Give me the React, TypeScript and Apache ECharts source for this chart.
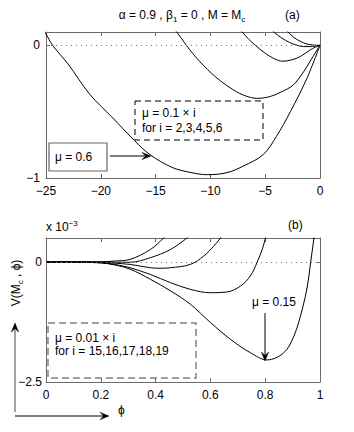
import React, { useEffect, useRef } from 'react';
import * as echarts from 'echarts';

const F = '"Liberation Sans", Arial, Helvetica, sans-serif';
const AX = '#6a6a6a';

// ---------- Panel (a): phi from -25 to 0 ----------
const xTicksA = [-25, -20, -15, -10, -5, 0];
const yTicksA = [-1, 0];

const phiA02 = [-3.2, -2.9, -2.4, -1.8, -1.2, -0.6, 0];
const vA02 = [0.13, 0.1, 0.06, 0.03, 0.01, 0.002, 0];

const phiA03 = [-4.5, -4.2, -3.5, -2.8, -2.2, -1.5, -0.8, 0];
const vA03 = [0.13, 0.1, 0.055, 0.022, 0.003, -0.01, -0.01, 0];

const phiA04 = [-7.5, -7.1, -6.5, -5.9, -5.0, -4.2, -3.4, -2.6, -1.8, -0.8, 0];
const vA04 = [0.13, 0.1, 0.045, 0, -0.06, -0.1, -0.12, -0.11, -0.085, -0.03, 0];

const phiA05 = [-13.5, -13.07, -12.2, -11.0, -9.5, -8.2, -7.0, -5.7, -4.5, -3.5, -2.45, -1.5, -0.9, 0];
const vA05 = [0.13, 0.1, 0, -0.12, -0.24, -0.32, -0.375, -0.4, -0.385, -0.35, -0.3, -0.2, -0.12, 0];

const phiA06 = [-25.3, -25, -24.4, -23, -21, -19, -16.9, -15.5, -13.5, -12, -10.3, -8.5, -7, -5.2, -4, -2.7, -1.2, 0];
const vA06 = [0.12, 0.085, 0, -0.14, -0.37, -0.54, -0.72, -0.825, -0.92, -0.955, -0.975, -0.96, -0.91, -0.825, -0.69, -0.5, -0.25, 0];

// ---------- Panel (b): phi from 0 to 1, V in units of 1e-3 ----------
const xTicksB = [0, 0.2, 0.4, 0.6, 0.8, 1];
const yTicksB = [-2.5, 0];

const phiB15 = [0, 0.1, 0.2, 0.25, 0.307, 0.381, 0.454, 0.527, 0.6, 0.673, 0.746, 0.807, 0.868, 0.905, 0.935, 0.954, 0.966, 0.978, 0.985];
const vB15 = [0, 0, -0.02, -0.06, -0.15, -0.36, -0.6, -0.88, -1.26, -1.61, -1.89, -2.04, -1.89, -1.54, -0.99, -0.5, 0, 0.5, 0.8];

const phiB16 = [0, 0.1, 0.2, 0.25, 0.307, 0.381, 0.454, 0.527, 0.6, 0.661, 0.71, 0.746, 0.771, 0.789, 0.801, 0.81];
const vB16 = [0, 0, -0.015, -0.05, -0.12, -0.26, -0.43, -0.57, -0.64, -0.625, -0.5, -0.29, 0, 0.26, 0.5, 0.7];

const phiB17 = [0, 0.1, 0.2, 0.25, 0.307, 0.381, 0.42, 0.454, 0.527, 0.576, 0.612, 0.637, 0.65];
const vB17 = [0, 0, -0.01, -0.025, -0.05, -0.12, -0.13, -0.12, -0.05, 0.125, 0.33, 0.5, 0.62];

const phiB18 = [0, 0.1, 0.2, 0.25, 0.307, 0.381, 0.454, 0.515, 0.53];
const vB18 = [0, 0, 0, -0.005, -0.005, 0.09, 0.26, 0.5, 0.58];

const phiB19 = [0, 0.1, 0.2, 0.25, 0.307, 0.381, 0.429, 0.44];
const vB19 = [0, 0, 0.005, 0.02, 0.055, 0.26, 0.5, 0.58];

const zip = (xs: number[], ys: number[]) => xs.map((x, i) => [x, ys[i]]);
const fmt = (v: number) => {
  const s = String(Math.round(v * 1000) / 1000);
  return s.replace('-', '\u2212');
};

function arrowHead(tx: number, ty: number, dx: number, dy: number, color: string) {
  const L = 9, W = 3.6;
  const nx = -dy, ny = dx;
  return {
    type: 'polygon',
    shape: {
      points: [
        [tx, ty],
        [tx - L * dx + W * nx, ty - L * dy + W * ny],
        [tx - 0.6 * L * dx, ty - 0.6 * L * dy],
        [tx - L * dx - W * nx, ty - L * dy - W * ny],
      ],
    },
    style: { fill: color, stroke: color, lineWidth: 0.5 },
  };
}

function txt(x: number, y: number, text: string, extra: any = {}) {
  return {
    type: 'text',
    x,
    y,
    style: {
      text,
      fontSize: 12,
      fontFamily: F,
      fill: '#000',
      align: 'left',
      verticalAlign: 'middle',
      textAlign: 'left',
      textVerticalAlign: 'middle',
      ...extra,
    },
  };
}

export default function App() {
  const ref = useRef<HTMLDivElement>(null);
  useEffect(() => {
    if (!ref.current) return;
    const chart = echarts.init(ref.current, null, { renderer: 'svg' });

    const axisCommon = (extra: any) => ({
      type: 'value',
      axisLine: { show: true, onZero: false, lineStyle: { color: AX, width: 1 } },
      axisTick: { show: true, inside: true, length: 4, lineStyle: { color: AX } },
      splitLine: { show: false },
      axisLabel: { color: '#000', fontSize: 12, fontFamily: F, formatter: fmt },
      ...extra,
    });

    const line = (data: number[][], xi: number, yi: number, extra: any = {}) => ({
      type: 'line',
      xAxisIndex: xi,
      yAxisIndex: yi,
      data,
      showSymbol: false,
      symbol: 'none',
      smooth: 0.35,
      lineStyle: { color: '#000', width: 1 },
      clip: true,
      silent: true,
      ...extra,
    });

    const zeroMark = {
      markLine: {
        silent: true,
        symbol: 'none',
        label: { show: false },
        lineStyle: { color: '#777', type: [1, 4], width: 1 },
        data: [{ yAxis: 0 }],
      },
    };

    const rich = {
      n: { fontSize: 12, fontFamily: F, lineHeight: 16, fill: '#000', color: '#000' },
      s: { fontSize: 8, fontFamily: F, lineHeight: 8, verticalAlign: 'bottom', fill: '#000', color: '#000' },
      p: { fontSize: 8, fontFamily: F, lineHeight: 8, verticalAlign: 'top', fill: '#000', color: '#000' },
    };

    const option: any = {
      animation: false,
      backgroundColor: '#fff',
      grid: [
        { left: 46, top: 32, width: 274, height: 146 },
        { left: 46, top: 238, width: 274, height: 144 },
      ],
      xAxis: [
        axisCommon({ gridIndex: 0, position: 'bottom', min: -25, max: 0, interval: 5, axisLabel: { color: '#000', fontSize: 12, fontFamily: F, margin: 7, formatter: fmt, customValues: xTicksA }, axisTick: { show: true, inside: true, length: 4, lineStyle: { color: AX }, customValues: xTicksA } }),
        axisCommon({ gridIndex: 0, position: 'top', min: -25, max: 0, interval: 5, axisLabel: { show: false } }),
        axisCommon({ gridIndex: 1, position: 'bottom', min: 0, max: 1, interval: 0.2, axisLabel: { color: '#000', fontSize: 12, fontFamily: F, margin: 7, formatter: fmt, customValues: xTicksB }, axisTick: { show: true, inside: true, length: 4, lineStyle: { color: AX }, customValues: xTicksB } }),
        axisCommon({ gridIndex: 1, position: 'top', min: 0, max: 1, interval: 0.2, axisLabel: { show: false } }),
      ],
      yAxis: [
        axisCommon({ gridIndex: 0, position: 'left', min: -1, max: 0.1, axisLabel: { color: '#000', fontSize: 12, fontFamily: F, margin: 6, formatter: fmt, customValues: yTicksA }, axisTick: { show: true, inside: true, length: 4, lineStyle: { color: AX }, customValues: yTicksA } }),
        axisCommon({ gridIndex: 0, position: 'right', min: -1, max: 0.1, axisLabel: { show: false }, axisTick: { show: true, inside: true, length: 4, lineStyle: { color: AX }, customValues: yTicksA } }),
        axisCommon({ gridIndex: 1, position: 'left', min: -2.5, max: 0.5, axisLabel: { color: '#000', fontSize: 12, fontFamily: F, margin: 4, formatter: fmt, customValues: yTicksB }, axisTick: { show: true, inside: true, length: 4, lineStyle: { color: AX }, customValues: yTicksB } }),
        axisCommon({ gridIndex: 1, position: 'right', min: -2.5, max: 0.5, axisLabel: { show: false }, axisTick: { show: true, inside: true, length: 4, lineStyle: { color: AX }, customValues: yTicksB } }),
      ],
      series: [
        line(zip(phiA06, vA06), 0, 0, zeroMark),
        line(zip(phiA05, vA05), 0, 0),
        line(zip(phiA04, vA04), 0, 0),
        line(zip(phiA03, vA03), 0, 0),
        line(zip(phiA02, vA02), 0, 0),
        line(zip(phiB15, vB15), 2, 2, zeroMark),
        line(zip(phiB16, vB16), 2, 2),
        line(zip(phiB17, vB17), 2, 2),
        line(zip(phiB18, vB18), 2, 2),
        line(zip(phiB19, vB19), 2, 2),
      ],
      graphic: [
        // title
        {
          type: 'text', x: 182, y: 15,
          style: {
            text: '{n|\u03b1 = 0.9 , \u03b2}{s|1}{n| = 0 , M = M}{s|c}',
            rich, align: 'center', verticalAlign: 'middle', textAlign: 'center', textVerticalAlign: 'middle',
          },
        },
        txt(285, 15, '(a)'),
        txt(288, 225, '(b)'),
        {
          type: 'text', x: 46, y: 227,
          style: {
            text: '{n|x 10}{p|\u22123}',
            rich, align: 'left', verticalAlign: 'middle', textAlign: 'left', textVerticalAlign: 'middle',
          },
        },
        // y label rotated
        {
          type: 'text', x: 16, y: 283, rotation: Math.PI / 2,
          style: {
            text: '{n|V(M}{s|c}{n| , \u03d5)}',
            rich, align: 'center', verticalAlign: 'middle', textAlign: 'center', textVerticalAlign: 'middle',
          },
        },
        txt(118, 410, '\u03d5'),
        // panel a boxes
        {
          type: 'rect', shape: { x: 135, y: 101, width: 128, height: 39 },
          style: { fill: 'none', stroke: '#000', lineWidth: 1, lineDash: [6, 4] },
        },
        txt(142, 113, '\u03bc = 0.1 \u00d7 i'),
        txt(142, 128, 'for i = 2,3,4,5,6'),
        {
          type: 'rect', shape: { x: 49, y: 143, width: 58, height: 28 },
          style: { fill: '#fff', stroke: '#666', lineWidth: 1.2 },
        },
        txt(55, 157, '\u03bc = 0.6'),
        { type: 'line', shape: { x1: 110, y1: 156, x2: 146, y2: 156 }, style: { stroke: '#000', lineWidth: 1 } },
        arrowHead(151, 156, 1, 0, '#000'),
        // panel b boxes
        {
          type: 'rect', shape: { x: 48, y: 323, width: 148, height: 55 },
          style: { fill: 'none', stroke: '#808080', lineWidth: 1.5, lineDash: [7, 4] },
        },
        txt(55, 338, '\u03bc = 0.01 \u00d7 i'),
        txt(55, 351, 'for i = 15,16,17,18,19'),
        txt(252, 302, '\u03bc = 0.15'),
        { type: 'line', shape: { x1: 265, y1: 313, x2: 265, y2: 356 }, style: { stroke: '#000', lineWidth: 1 } },
        arrowHead(265, 361, 0, 1, '#000'),
        // axes arrows
        { type: 'line', shape: { x1: 15, y1: 412, x2: 15, y2: 328 }, style: { stroke: '#666', lineWidth: 1.2 } },
        arrowHead(15, 323, 0, -1, '#000'),
        { type: 'line', shape: { x1: 15, y1: 416, x2: 104, y2: 416 }, style: { stroke: '#000', lineWidth: 1 } },
        arrowHead(109, 416, 1, 0, '#000'),
      ],
    };
    chart.setOption(option);
    return () => chart.dispose();
  }, []);
  return <div ref={ref} style={{ position: 'fixed', left: 0, top: 0, width: 354, height: 432, background: '#fff' }} />;
}
